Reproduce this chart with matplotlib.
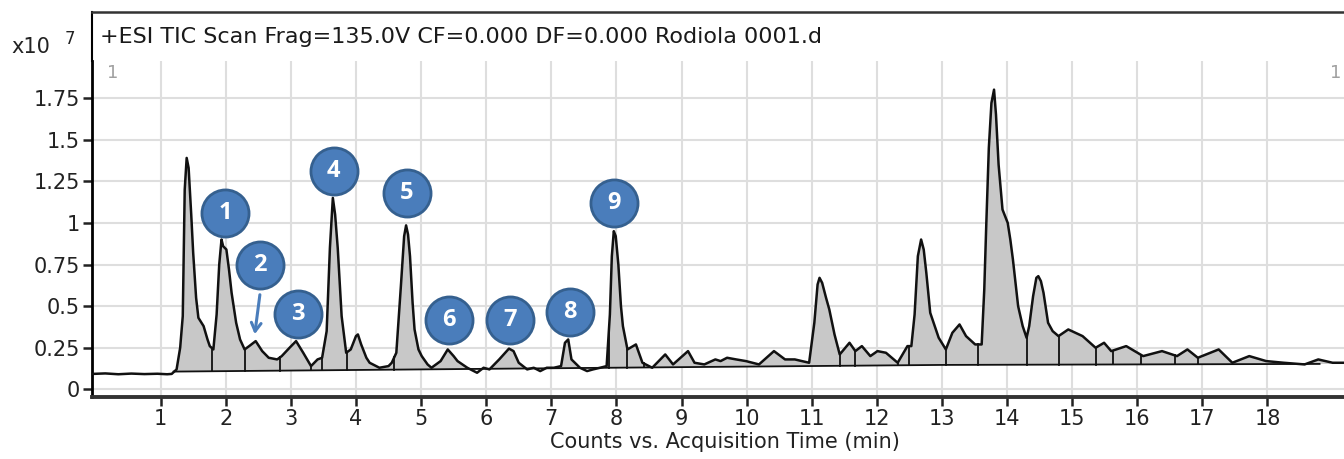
import numpy as np
import matplotlib.pyplot as plt

# TIC chromatogram, counts in units of 1e7, time in minutes
time_min = [-0.05, 0.15, 0.35, 0.55, 0.75, 0.95, 1.10, 1.17, 1.245, 1.30, 1.34, 1.37, 1.40, 1.43,
            1.47, 1.50, 1.545, 1.58, 1.66, 1.72, 1.755, 1.81, 1.86, 1.90, 1.935, 1.96, 2.01, 2.05,
            2.09, 2.16, 2.22, 2.29, 2.36, 2.46, 2.56, 2.66, 2.79, 2.86, 2.98, 3.08, 3.19, 3.31,
            3.41, 3.48, 3.55, 3.60, 3.645, 3.68, 3.72, 3.78, 3.85, 3.92, 4.00, 4.03, 4.08, 4.16,
            4.21, 4.36, 4.50, 4.55, 4.62, 4.69, 4.74, 4.77, 4.80, 4.83, 4.87, 4.90, 4.96, 5.01,
            5.10, 5.16, 5.30, 5.41, 5.50, 5.56, 5.71, 5.86, 5.96, 6.05, 6.20, 6.35, 6.42, 6.50,
            6.63, 6.73, 6.83, 6.93, 7.04, 7.15, 7.21, 7.26, 7.31, 7.44, 7.55, 7.64, 7.75, 7.85,
            7.90, 7.93, 7.96, 7.99, 8.03, 8.07, 8.10, 8.17, 8.30, 8.40, 8.55, 8.75, 8.87, 9.10,
            9.20, 9.35, 9.52, 9.60, 9.70, 9.84, 9.99, 10.19, 10.42, 10.59, 10.74, 10.96, 11.04,
            11.09, 11.12, 11.16, 11.22, 11.27, 11.35, 11.43, 11.58, 11.67, 11.77, 11.90, 12.01,
            12.14, 12.32, 12.47, 12.53, 12.58, 12.63, 12.68, 12.72, 12.76, 12.82, 12.95, 13.06,
            13.16, 13.27, 13.37, 13.51, 13.61, 13.65, 13.68, 13.72, 13.76, 13.80, 13.83, 13.87,
            13.93, 14.01, 14.05, 14.09, 14.17, 14.24, 14.30, 14.34, 14.40, 14.45, 14.48, 14.52,
            14.56, 14.63, 14.70, 14.79, 14.94, 15.16, 15.36, 15.49, 15.60, 15.83, 16.09, 16.38,
            16.61, 16.77, 16.93, 17.25, 17.46, 17.72, 17.98, 18.25, 18.57, 18.78, 19.0, 19.4]
counts = [0.093, 0.096, 0.091, 0.095, 0.092, 0.094, 0.091, 0.093, 0.12, 0.25, 0.44, 1.20, 1.39, 1.33,
          1.05, 0.82, 0.55, 0.43, 0.38, 0.30, 0.26, 0.24, 0.45, 0.75, 0.90, 0.86, 0.84, 0.72,
          0.58, 0.40, 0.30, 0.24, 0.26, 0.29, 0.23, 0.19, 0.18, 0.20, 0.25, 0.29, 0.22, 0.14,
          0.18, 0.19, 0.35, 0.85, 1.15, 1.05, 0.85, 0.44, 0.22, 0.24, 0.32, 0.33, 0.27, 0.19,
          0.16, 0.13, 0.14, 0.16, 0.22, 0.62, 0.92, 0.985, 0.93, 0.80, 0.52, 0.36, 0.24, 0.20,
          0.15, 0.13, 0.17, 0.24, 0.20, 0.17, 0.13, 0.10, 0.13, 0.12, 0.18, 0.245, 0.23, 0.16,
          0.12, 0.13, 0.11, 0.13, 0.13, 0.14, 0.28, 0.30, 0.18, 0.13, 0.11, 0.12, 0.13, 0.14,
          0.45, 0.80, 0.95, 0.92, 0.75, 0.50, 0.38, 0.24, 0.27, 0.16, 0.13, 0.21, 0.15, 0.23,
          0.16, 0.15, 0.18, 0.17, 0.19, 0.18, 0.17, 0.15, 0.23, 0.18, 0.18, 0.16, 0.40,
          0.63, 0.67, 0.64, 0.55, 0.48, 0.33, 0.21, 0.28, 0.23, 0.26, 0.20, 0.23,
          0.22, 0.16, 0.26, 0.26, 0.45, 0.80, 0.90, 0.84, 0.70, 0.46, 0.31, 0.24,
          0.34, 0.39, 0.32, 0.27, 0.27, 0.60, 0.98, 1.45, 1.72, 1.80, 1.65, 1.35,
          1.08, 1.00, 0.90, 0.78, 0.50, 0.38, 0.31, 0.38, 0.56, 0.67, 0.68, 0.65,
          0.58, 0.40, 0.35, 0.32, 0.36, 0.32, 0.25, 0.28, 0.23, 0.26, 0.20, 0.23,
          0.20, 0.24, 0.19, 0.24, 0.16, 0.20, 0.17, 0.16, 0.15, 0.18, 0.16, 0.16]

# integration baseline and peak boundaries
base_time = [1.2, 7.0, 13.0, 18.8]
base_counts = [0.107, 0.127, 0.147, 0.153]
split_times = [1.79, 2.29, 2.84, 3.31, 3.48, 3.86, 4.59, 7.89, 8.17, 8.42, 11.43, 11.67,
               12.32, 12.50, 13.06, 13.56, 14.30, 14.80, 15.36, 15.62, 16.06, 16.58, 16.93]

# numbered peak labels
label_nums = ['1', '2', '3', '4', '5', '6', '7', '8', '9']
label_time = [1.99, 2.53, 3.11, 3.66, 4.78, 5.43, 6.37, 7.29, 7.97]
label_counts = [1.058, 0.747, 0.453, 1.314, 1.178, 0.417, 0.417, 0.467, 1.118]

x_ticks = list(range(1, 19))
y_ticks = [0, 0.25, 0.5, 0.75, 1, 1.25, 1.5, 1.75]
y_tick_labels = ['0', '0.25', '0.5', '0.75', '1', '1.25', '1.5', '1.75']

plt.rcParams['font.family'] = ['DejaVu Sans']

W, H = 1344, 459
fig = plt.figure(figsize=(W / 100, H / 100), dpi=100)
ax = fig.add_axes([92 / W, 62 / H, 1266 / W, 336 / H])

t = np.array(time_min)
c = np.array(counts)
base = np.interp(t, base_time, base_counts)
inside = (t >= base_time[0]) & (t <= base_time[-1])
ax.fill_between(t, base, c, where=inside & (c > base), interpolate=True,
                color='#c8c8c8', lw=0, zorder=2)
ax.plot(base_time, base_counts, color='#111111', lw=1.3, zorder=3)
for st in split_times:
    ax.plot([st, st], [np.interp(st, base_time, base_counts), np.interp(st, t, c)],
            color='#111111', lw=1.3, zorder=3)
ax.plot(t, c, color='#111111', lw=1.8, zorder=4)

ax.set_xlim(-0.054, 19.39)
ax.set_ylim(-0.0456, 1.972)
ax.set_xticks(x_ticks)
ax.set_yticks(y_ticks)
ax.set_yticklabels(y_tick_labels)
ax.grid(True, color='#dedede', lw=1.5, zorder=0)
ax.set_axisbelow(True)
ax.tick_params(axis='both', labelsize=15, colors='#222222', width=1.8, length=6.5, pad=2)
for side in ['top', 'right']:
    ax.spines[side].set_visible(False)
ax.spines['left'].set_linewidth(2)
ax.spines['bottom'].set_linewidth(2.8)
ax.spines['bottom'].set_color('#333333')
ax.set_xlabel('Counts vs. Acquisition Time (min)', fontsize=15, color='#222222', labelpad=2)

# peak number badges
ax.scatter(label_time, label_counts, s=1150, color='#4a7dbb', edgecolor='#35608f',
           linewidth=2, zorder=6, clip_on=False)
for n, lt, lc in zip(label_nums, label_time, label_counts):
    ax.text(lt, lc, n, color='white', fontsize=17, fontweight='bold', ha='center',
            va='center', family='Open Sans', zorder=7)
ax.annotate('', xy=(2.44, 0.315), xytext=(2.53, 0.585),
            arrowprops=dict(arrowstyle='->,head_length=0.6,head_width=0.35',
                            color='#4a7dbb', lw=2.2), zorder=6)

ax.text(0.012, 0.95, '1', transform=ax.transAxes, color='#a0a0a0', fontsize=13)
ax.text(0.978, 0.95, '1', transform=ax.transAxes, color='#a0a0a0', fontsize=13)

# title band above the plot
tax = fig.add_axes([92 / W, 398 / H, 1266 / W, 49 / H])
tax.set_xticks([])
tax.set_yticks([])
tax.patch.set_alpha(0)
tax.spines['bottom'].set_visible(False)
tax.spines['right'].set_visible(False)
tax.spines['left'].set_linewidth(1.5)
tax.spines['top'].set_linewidth(1.8)
tax.spines['top'].set_color('#333333')
fig.text(100 / W, 1 - 37 / H, '+ESI TIC Scan Frag=135.0V CF=0.000 DF=0.000 Rodiola 0001.d',
         fontsize=16, color='#1a1a1a', va='center', ha='left')
fig.text(11 / W, 1 - 47 / H, 'x10', fontsize=15, color='#222222', va='center', ha='left')
fig.text(65 / W, 1 - 39 / H, '7', fontsize=12, color='#222222', va='center', ha='left')

fig.savefig('out.png', dpi=100)
